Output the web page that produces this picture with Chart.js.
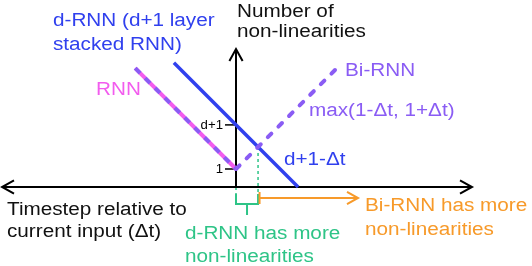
<!DOCTYPE html>
<html>
<head>
<meta charset="utf-8">
<script src="https://cdn.jsdelivr.net/npm/chart.js@4.4.0/dist/chart.umd.min.js"></script>
<style>
  body { margin: 0; background: #fff; }
  canvas { display: block; }
</style>
</head>
<body>
<canvas id="chart" width="532" height="266"></canvas>
<script>
// Values (units: 1 = one non-linearity / one timestep)
var dPlus1 = 3.45;

var rnnX = [-5.6, 0];
var rnnY = [6.6, 1];

var drnnX = [-3.45, 3.45];
var drnnY = [6.9, 0];

var birnnX = [0, 5.65];
var birnnY = [1, 6.65];

var yTickValues = [1, dPlus1];
var yTickLabels = ["1", "d+1"];

// Colors
var blue = "#3040ee";
var pink = "#f25cee";
var purple = "#8a5cf4";
var green = "#2ec487";
var orange = "#f79a2a";

function pts(xs, ys) {
  return xs.map(function (x, i) { return { x: x, y: ys[i] }; });
}

// Text labels (pixel positions on the canvas)
var labels = [
  { text: "d-RNN (d+1 layer", x: 53, y: 26, color: blue },
  { text: "stacked RNN)", x: 53, y: 50, color: blue },
  { text: "RNN", x: 96, y: 95, color: pink },
  { text: "Number of", x: 237, y: 17, color: "#111" },
  { text: "non-linearities", x: 237, y: 37, color: "#111" },
  { text: "Bi-RNN", x: 345, y: 76, color: purple },
  { text: "max(1-\u0394t, 1+\u0394t)", x: 309, y: 116, color: purple },
  { text: "d+1-\u0394t", x: 284, y: 165, color: blue },
  { text: "Timestep relative to", x: 7, y: 215, color: "#111" },
  { text: "current input (\u0394t)", x: 7, y: 237, color: "#111" },
  { text: "d-RNN has more", x: 185, y: 239, color: green },
  { text: "non-linearities", x: 185, y: 262, color: green },
  { text: "Bi-RNN has more", x: 365, y: 211, color: orange },
  { text: "non-linearities", x: 365, y: 235, color: orange }
];

function chevron(ctx, x, y, dx, dy, size) {
  // open arrow head pointing in direction (dx, dy)
  var px = -dy, py = dx;
  ctx.beginPath();
  ctx.moveTo(x - dx * size + px * size * 0.55, y - dy * size + py * size * 0.55);
  ctx.lineTo(x, y);
  ctx.lineTo(x - dx * size - px * size * 0.55, y - dy * size - py * size * 0.55);
  ctx.stroke();
}

var diagramPlugin = {
  id: "diagram",
  beforeDatasetsDraw: function (chart) {
    var ctx = chart.ctx;
    var xs = chart.scales.x, ys = chart.scales.y;
    var x0 = xs.getPixelForValue(0);
    var y0 = ys.getPixelForValue(0);
    var crossX = xs.getPixelForValue((dPlus1 - 1) / 2);
    var crossY = ys.getPixelForValue((dPlus1 + 1) / 2);

    ctx.save();
    ctx.lineCap = "butt";

    // green dashed guides
    ctx.strokeStyle = green;
    ctx.lineWidth = 1.5;
    ctx.setLineDash([3, 3]);
    ctx.beginPath();
    ctx.moveTo(crossX, crossY);
    ctx.lineTo(crossX, 195);
    ctx.moveTo(x0, y0);
    ctx.lineTo(x0, 195);
    ctx.stroke();
    ctx.setLineDash([]);

    // green bracket
    ctx.lineWidth = 2;
    ctx.beginPath();
    ctx.moveTo(x0, 194);
    ctx.lineTo(x0, 204);
    ctx.lineTo(crossX, 204);
    ctx.lineTo(crossX, 194);
    ctx.moveTo((x0 + crossX) / 2, 204);
    ctx.lineTo((x0 + crossX) / 2, 215);
    ctx.stroke();

    // orange arrow
    ctx.strokeStyle = orange;
    ctx.lineWidth = 2;
    ctx.beginPath();
    ctx.moveTo(crossX + 1.5, 192);
    ctx.lineTo(crossX + 1.5, 204);
    ctx.moveTo(crossX + 1.5, 198);
    ctx.lineTo(357, 198);
    ctx.stroke();
    chevron(ctx, 358, 198, 1, 0, 11);

    // axes
    ctx.strokeStyle = "#000";
    ctx.lineWidth = 2;
    ctx.beginPath();
    ctx.moveTo(2, y0);
    ctx.lineTo(472, y0);
    ctx.moveTo(x0, y0);
    ctx.lineTo(x0, 49);
    ctx.stroke();
    chevron(ctx, 2, y0, -1, 0, 12);
    chevron(ctx, 472, y0, 1, 0, 12);
    chevron(ctx, x0, 49, 0, -1, 12);

    // y ticks
    ctx.lineWidth = 1.5;
    ctx.fillStyle = "#000";
    ctx.font = "12px 'Liberation Sans', Arial, sans-serif";
    ctx.textAlign = "right";
    ctx.textBaseline = "middle";
    yTickValues.forEach(function (v, i) {
      var py = ys.getPixelForValue(v);
      ctx.beginPath();
      ctx.moveTo(x0 - 11, py);
      ctx.lineTo(x0, py);
      ctx.stroke();
      ctx.save();
      ctx.translate(x0 - 13, py + 1);
      ctx.scale(1.1, 1);
      ctx.fillText(yTickLabels[i], 0, 0);
      ctx.restore();
    });
    ctx.restore();
  },
  afterDraw: function (chart) {
    var ctx = chart.ctx;
    ctx.save();
    ctx.font = "18px 'Liberation Sans', Arial, sans-serif";
    ctx.textAlign = "left";
    ctx.textBaseline = "alphabetic";
    labels.forEach(function (l) {
      ctx.save();
      ctx.translate(l.x, l.y);
      ctx.scale(1.15, 1);
      ctx.fillStyle = l.color;
      ctx.fillText(l.text, 0, 0);
      ctx.restore();
    });
    ctx.restore();
  }
};

new Chart(document.getElementById("chart"), {
  type: "scatter",
  data: {
    datasets: [
      {
        label: "RNN dashes",
        data: pts(rnnX, rnnY),
        showLine: true,
        borderColor: purple,
        borderWidth: 4,
        borderDash: [7, 7],
        pointRadius: 0
      },
      {
        label: "RNN",
        data: pts(rnnX, rnnY),
        showLine: true,
        borderColor: pink,
        borderWidth: 4,
        pointRadius: 0
      },
      {
        label: "Bi-RNN",
        data: pts(birnnX, birnnY),
        showLine: true,
        borderColor: purple,
        borderWidth: 4,
        borderDash: [5, 10],
        borderCapStyle: "round",
        pointRadius: 0
      },
      {
        label: "d-RNN",
        data: pts(drnnX, drnnY),
        showLine: true,
        borderColor: blue,
        borderWidth: 3.5,
        pointRadius: 0
      }
    ]
  },
  options: {
    responsive: false,
    animation: false,
    layout: { padding: 0 },
    plugins: {
      legend: { display: false },
      tooltip: { enabled: false }
    },
    scales: {
      x: { type: "linear", display: false, min: -236 / 18, max: 296 / 18 },
      y: { type: "linear", display: false, min: -79 / 18, max: 187 / 18 }
    }
  },
  plugins: [diagramPlugin]
});
</script>
</body>
</html>
